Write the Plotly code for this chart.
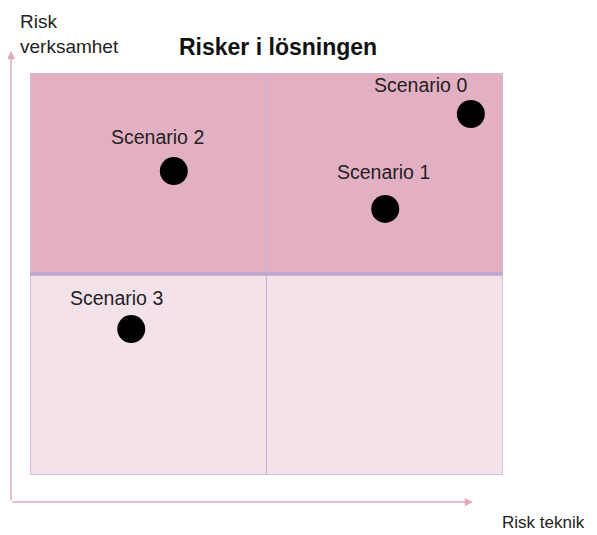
import plotly.graph_objects as go

scenarios = ["Scenario 0", "Scenario 1", "Scenario 2", "Scenario 3"]
risk_teknik = [9.32, 7.51, 3.04, 2.14]
risk_verksamhet = [8.98, 6.62, 7.56, 3.63]
label_dx = [-50, -2, -16, -15]
label_dy = [29, 37, 34, 31]

title = "Risker i lösningen"
x_label = "Risk teknik"
y_label = "Risk<br>verksamhet"

OFF = 8  # page body margin
W, H = 597 - OFF, 535 - OFF
L, T = 30 - OFF, 73 - OFF
R = W - (503 - OFF)
B = H - (475 - OFF)
pw, ph = W - L - R, H - T - B

def px(x):
    return (x - OFF - L) / pw

def py(y):
    return (H - B - (y - OFF)) / ph

fig = go.Figure()

fig.add_trace(go.Scatter(
    x=risk_teknik, y=risk_verksamhet, mode="markers",
    marker=dict(size=28, color="black"),
    hoverinfo="text", text=scenarios, showlegend=False,
))

shapes = [
    dict(type="rect", xref="x", yref="y", x0=0, x1=10, y0=5, y1=10,
         fillcolor="#e2b0c2", line=dict(width=0), layer="below"),
    dict(type="rect", xref="x", yref="y", x0=0, x1=10, y0=0, y1=5,
         fillcolor="#f4e2ea", line=dict(width=0), layer="below"),
    dict(type="rect", xref="x", yref="y", x0=0, x1=10, y0=0, y1=10,
         line=dict(color="#cbb8de", width=1.5), layer="below"),
    dict(type="line", xref="x", yref="y", x0=5, x1=5, y0=0, y1=10,
         line=dict(color="#c9b5dc", width=1.2), layer="below"),
    dict(type="line", xref="x", yref="y", x0=0, x1=10, y0=5, y1=5,
         line=dict(color="#bfa7d0", width=3.5), layer="below"),
]

font_fam = "Liberation Sans, Arial"
annotations = []
for name, xv, yv, dx, dy in zip(scenarios, risk_teknik, risk_verksamhet, label_dx, label_dy):
    annotations.append(dict(
        x=xv, y=yv, xref="x", yref="y", text=name, showarrow=False,
        xshift=dx, yshift=dy, font=dict(family=font_fam, size=19.5, color="#222"),
    ))

arrow_col = "#e3a9bd"
annotations.append(dict(
    x=px(473), y=py(502), xref="paper", yref="paper", ax=-462, ay=0,
    axref="pixel", ayref="pixel", text="", showarrow=True,
    arrowhead=2, arrowsize=1.1, arrowwidth=1.5, arrowcolor=arrow_col,
))
annotations.append(dict(
    x=px(11), y=py(51), xref="paper", yref="paper", ax=0, ay=451,
    axref="pixel", ayref="pixel", text="", showarrow=True,
    arrowhead=2, arrowsize=1.1, arrowwidth=1.5, arrowcolor=arrow_col,
))

annotations.append(dict(
    x=px(18), y=py(9), xref="paper", yref="paper", text=y_label, showarrow=False,
    xanchor="left", yanchor="top", align="left",
    font=dict(family=font_fam, size=19, color="#222"),
))
annotations.append(dict(
    x=px(587), y=py(511), xref="paper", yref="paper", text=x_label, showarrow=False,
    xanchor="right", yanchor="top", align="right",
    font=dict(family=font_fam, size=17, color="#222"),
))
annotations.append(dict(
    x=px(278), y=py(47), xref="paper", yref="paper", text="<b>" + title + "</b>",
    showarrow=False, xanchor="center", yanchor="middle",
    font=dict(family=font_fam, size=23, color="#111"),
))

fig.update_layout(
    width=W, height=H,
    margin=dict(l=L, r=R, t=T, b=B),
    paper_bgcolor="white", plot_bgcolor="white",
    xaxis=dict(range=[0, 10], visible=False, fixedrange=True),
    yaxis=dict(range=[0, 10], visible=False, fixedrange=True),
    shapes=shapes, annotations=annotations, showlegend=False,
)

fig.write_html("out.html")
